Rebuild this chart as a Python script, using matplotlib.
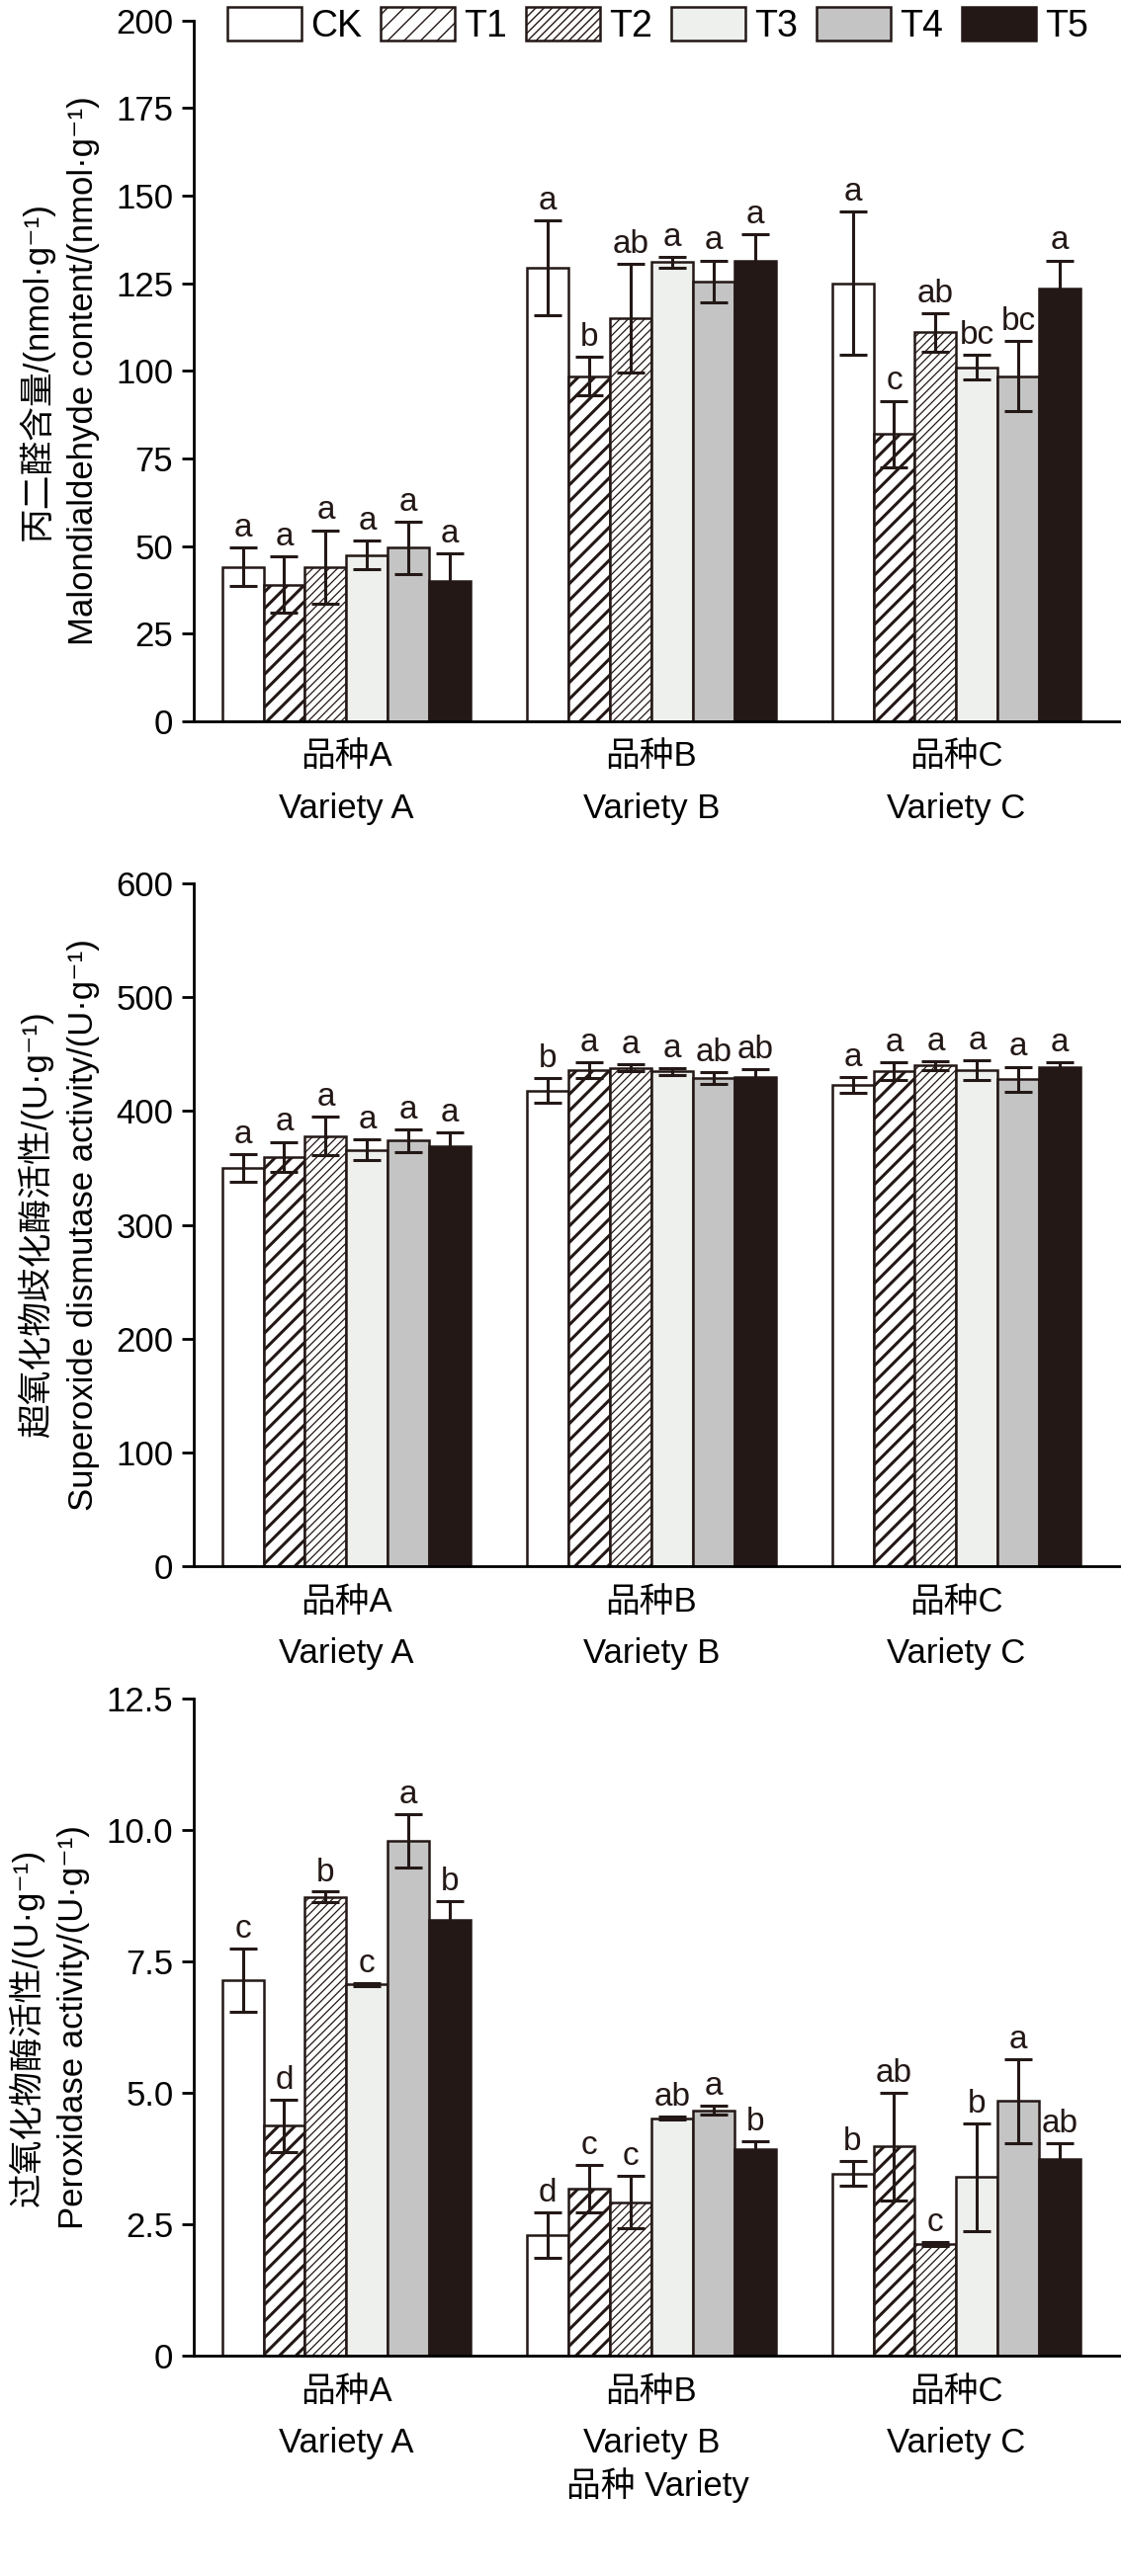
import numpy as np
import matplotlib
matplotlib.use('Agg')
import matplotlib.pyplot as plt

plt.rcParams['font.family'] = ['Liberation Sans', 'Noto Sans CJK SC', 'DejaVu Sans']
plt.rcParams['hatch.color'] = '#231816'

groups = ['品种A\nVariety A', '品种B\nVariety B', '品种C\nVariety C']
treatments = ['CK', 'T1', 'T2', 'T3', 'T4', 'T5']

# 丙二醛
mda = [[44, 39, 44, 47.5, 49.5, 40],
       [129.5, 98.5, 115, 131, 125.5, 131.5],
       [125, 82, 111, 101, 98.5, 123.5]]
mda_err = [[5.5, 8, 10.5, 4, 7.5, 8],
           [13.5, 5.5, 15.5, 1.5, 6, 7.5],
           [20.5, 9.5, 5.5, 3.5, 10, 8]]
mda_let = [['a'] * 6,
           ['a', 'b', 'ab', 'a', 'a', 'a'],
           ['a', 'c', 'ab', 'bc', 'bc', 'a']]

# SOD
sod = [[350, 360, 378, 366, 374, 369],
       [418, 436, 438, 435, 429, 430],
       [423, 435, 440, 436, 428, 439]]
sod_err = [[12, 13, 17, 9, 10, 12],
           [11, 7, 3, 3, 5, 7],
           [7, 8, 4, 9, 11, 4]]
sod_let = [['a'] * 6,
           ['b', 'a', 'a', 'a', 'ab', 'ab'],
           ['a'] * 6]

# POD
pod = [[7.15, 4.38, 8.73, 7.07, 9.8, 8.3],
       [2.3, 3.18, 2.92, 4.52, 4.67, 3.93],
       [3.47, 3.98, 2.12, 3.4, 4.85, 3.75]]
pod_err = [[0.6, 0.5, 0.1, 0.03, 0.5, 0.35],
           [0.43, 0.45, 0.5, 0.03, 0.08, 0.15],
           [0.23, 1.02, 0.04, 1.02, 0.8, 0.3]]
pod_let = [['c', 'd', 'b', 'c', 'a', 'b'],
           ['d', 'c', 'c', 'ab', 'a', 'b'],
           ['b', 'ab', 'c', 'b', 'a', 'ab']]

faces = ['white', 'white', 'white', '#eef0ee', '#c4c4c4', '#231816']
hatches = [None, '//', '////', None, None, None]
hatch_lw = [1.0, 2.2, 0.9, 1.0, 1.0, 1.0]

panels = [
    (mda, mda_err, mda_let, 200, 25, '{:.0f}',
     '丙二醛含量/(nmol·g⁻¹)\nMalondialdehyde content/(nmol·g⁻¹)',
     [0.173, 0.720, 0.827, 0.272]),
    (sod, sod_err, sod_let, 600, 100, '{:.0f}',
     '超氧化物歧化酶活性/(U·g⁻¹)\nSuperoxide dismutase activity/(U·g⁻¹)',
     [0.173, 0.392, 0.827, 0.265]),
    (pod, pod_err, pod_let, 12.5, 2.5, '{:.1f}',
     '过氧化物酶活性/(U·g⁻¹)\nPeroxidase activity/(U·g⁻¹)',
     [0.173, 0.0855, 0.827, 0.255]),
]

fig = plt.figure(figsize=(11.34, 26.07), dpi=100)
w = 0.136
x = np.arange(len(groups))

for k, (vals, errs, lets, ymax, step, fmt, ylab, rect) in enumerate(panels):
    ax = fig.add_axes(rect)
    vals = np.array(vals)
    errs = np.array(errs)
    for i, t in enumerate(treatments):
        pos = x + (i - 2.5) * w
        bars = ax.bar(pos, vals[:, i], w, color=faces[i], edgecolor='#231816',
                      linewidth=1.8, hatch=hatches[i], label=t, zorder=2)
        for b in bars:
            try:
                b.set_hatch_linewidth(hatch_lw[i])
            except AttributeError:
                pass
        ax.errorbar(pos, vals[:, i], yerr=errs[:, i], fmt='none', ecolor='#231816',
                    elinewidth=2.2, capsize=10, capthick=2.2, zorder=3)
        for j in range(len(groups)):
            ax.text(pos[j], vals[j, i] + errs[j, i] + ymax * 0.006, lets[j][i],
                    ha='center', va='bottom', fontsize=24, color='#231816')
    ax.set_xlim(-0.5, 2.54)
    ax.set_ylim(0, ymax)
    ticks = np.arange(0, ymax + step / 2, step)
    ax.set_yticks(ticks)
    ax.set_yticklabels(['0'] + [fmt.format(v) for v in ticks[1:]])
    ax.set_xticks(x)
    ax.set_xticklabels(groups, linespacing=1.75)
    ax.tick_params(axis='x', length=0, pad=14, labelsize=25)
    ax.tick_params(axis='y', direction='out', length=9, width=2, labelsize=25, pad=6)
    for s in ['top', 'right']:
        ax.spines[s].set_visible(False)
    for s in ['left', 'bottom']:
        ax.spines[s].set_linewidth(2)
    ax.set_ylabel(ylab, fontsize=25, linespacing=1.5, labelpad=12)
    if k == 0:
        ax.legend(ncol=6, loc='upper left', bbox_to_anchor=(0.02, 1.04), frameon=False,
                  fontsize=27, handlelength=2.0, handleheight=1.0, columnspacing=0.5,
                  handletextpad=0.25, borderaxespad=0)
    if k == 2:
        ax.set_xlabel('品种 Variety', fontsize=25, labelpad=6)

fig.savefig('out.png', dpi=100)
